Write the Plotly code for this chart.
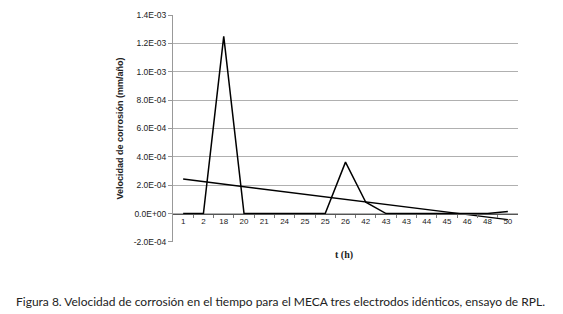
import numpy as np
import plotly.graph_objects as go

t_labels = ["1", "2", "18", "20", "21", "24", "25", "25", "26", "42", "43", "43", "44", "45", "46", "48", "50"]
velocidad = [0, 0, 1.25e-3, 0, 0, 0, 0, 0, 3.63e-4, 8.0e-5, 0, 0, 0, 0, 0, 0, 1.5e-5]
y_ticks = [-2e-4, 0, 2e-4, 4e-4, 6e-4, 8e-4, 1.0e-3, 1.2e-3, 1.4e-3]
y_ticktext = ["-2.0E-04", "0.0E+00", "2.0E-04", "4.0E-04", "6.0E-04", "8.0E-04", "1.0E-03", "1.2E-03", "1.4E-03"]
caption = "Figura 8. Velocidad de corrosión en el tiempo para el MECA tres electrodos idénticos, ensayo de RPL."

idx = np.arange(len(t_labels))
slope, intercept = np.polyfit(idx, np.array(velocidad), 1)
trend = slope * idx + intercept

fig = go.Figure()
fig.add_trace(go.Scatter(x=idx, y=velocidad, mode="lines",
                         line=dict(color="black", width=1.5), showlegend=False))
fig.add_trace(go.Scatter(x=[idx[0], idx[-1]], y=[trend[0], trend[-1]], mode="lines",
                         line=dict(color="black", width=1.5), showlegend=False))

fig.update_layout(
    width=555, height=306,
    margin=dict(l=165, r=45, t=7, b=72),
    paper_bgcolor="white", plot_bgcolor="white",
    font=dict(family="Liberation Sans, Arial", color="#222"),
    xaxis=dict(
        range=[-0.5, len(t_labels) - 0.5],
        tickmode="array", tickvals=list(idx), ticktext=t_labels,
        tickfont=dict(size=8, color="#222"),
        ticks="", showgrid=False, zeroline=False,
        showline=True, linecolor="#555", linewidth=1,
        anchor="free", position=0.125, automargin=False,
        minor=dict(tickmode="array", tickvals=[i + 0.5 for i in idx[:-1]],
                   ticks="outside", ticklen=3, tickcolor="#777", showgrid=False),
    ),
    yaxis=dict(
        range=[-2.005e-4, 1.4005e-3],
        tickmode="array", tickvals=y_ticks, ticktext=y_ticktext,
        tickfont=dict(size=8.5, color="#222"),
        showgrid=True, gridcolor="#b0b0b0", gridwidth=1,
        zeroline=False, automargin=False,
        showline=True, linecolor="#999", linewidth=1,
        ticks="outside", ticklen=4, tickcolor="#999",
        title=dict(text="<b>Velocidad de corrosión (mm/año)</b>", font=dict(size=9, color="#222"), standoff=8),
    ),
)

fig.add_annotation(text="<b>t (h)</b>", xref="paper", yref="paper",
                   x=(344 - 173) / 345, y=-(255 - 242) / 227,
                   showarrow=False, font=dict(family="Liberation Serif", size=10, color="#222"),
                   xanchor="center", yanchor="middle")
fig.add_annotation(text=caption, xref="paper", yref="paper",
                   x=(280 - 173) / 345, y=-(301 - 242) / 227,
                   showarrow=False, font=dict(family="Lato", size=12, color="#222"),
                   xanchor="center", yanchor="middle")

fig.write_html("out.html")
